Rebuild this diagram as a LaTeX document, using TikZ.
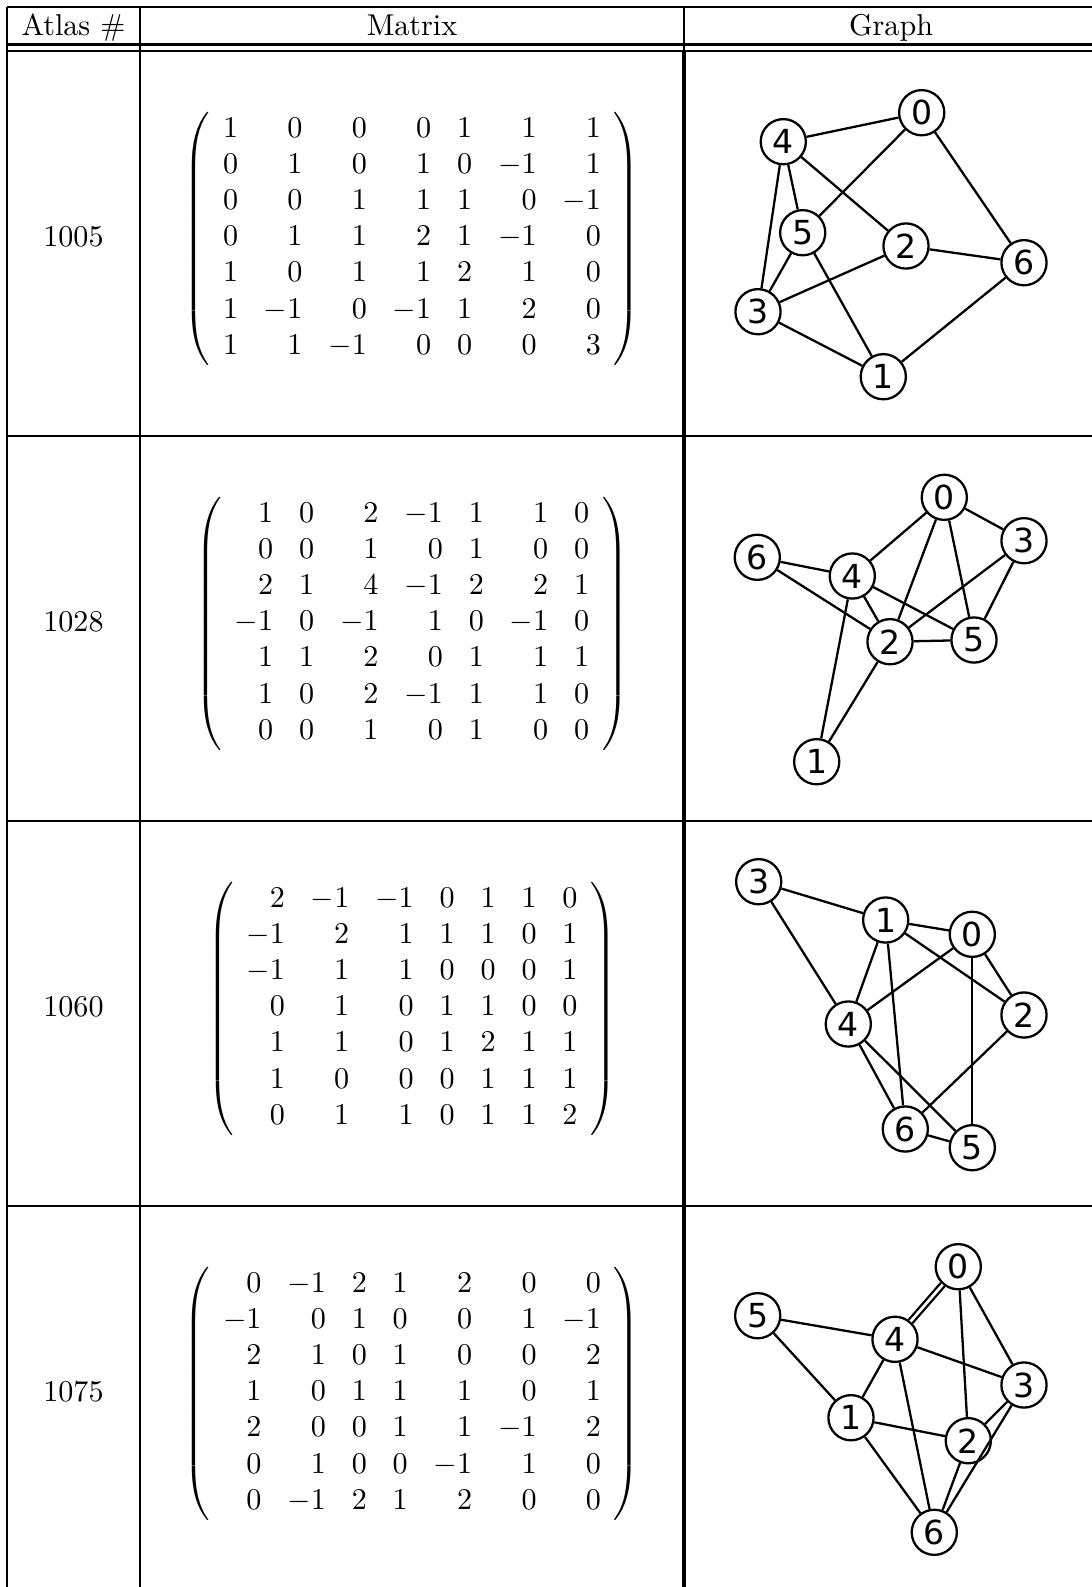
\documentclass[tikz,border=0pt]{standalone}
\usepackage{amsmath}
\usepackage{fontspec}
\newfontfamily\graphfont{DejaVu Sans}
\setlength{\arraycolsep}{4.3pt}

\begin{document}
\begin{tikzpicture}[x=0.332pt,y=-0.332pt]
\tikzstyle{every node}+=[inner sep=0pt]
\tikzstyle{vertex}=[draw=black,circle,fill=white,line width=0.76pt,minimum size=15pt,font=\graphfont\fontsize{11}{12}\selectfont]
\tikzstyle{edge}=[black,line width=0.76pt]
\tikzstyle{rule}=[black,line width=0.8pt]
\tikzstyle{heavyrule}=[black,line width=1pt]
\tikzstyle{thinrule}=[black,line width=0.4pt]
\useasboundingbox (0,0) rectangle (1092,1587);
\fill [white] (0,0) rectangle (1092,1587);
\draw [rule] (7,7) -- (1092,7);
\draw [rule] (7,44.5) -- (1092,44.5);
\draw [rule] (7,51) -- (700,51);
\draw [thinrule] (700,51) -- (1092,51);
\draw [rule] (7,436) -- (700,436);
\draw [thinrule] (700,436) -- (1092,436);
\draw [rule] (7,821) -- (700,821);
\draw [thinrule] (700,821) -- (1092,821);
\draw [rule] (7,1206) -- (700,1206);
\draw [thinrule] (700,1206) -- (1092,1206);
\draw [thinrule] (7,7) -- (7,1587);
\draw [thinrule] (140,7) -- (140,1587);
\draw [thinrule] (684,7) -- (684,51);
\draw [heavyrule] (684,51) -- (684,1587);
\node [anchor=base] (h1) at (73.5,35) {Atlas \#};
\node [anchor=base] (h2) at (412,35) {Matrix};
\node [anchor=base] (h3) at (891,35) {Graph};
\node (r1) at (73.5,236.7) {1005};
\node (r2) at (73.5,621.7) {1028};
\node (r3) at (73.5,1006.7) {1060};
\node (r4) at (73.5,1391.7) {1075};
\node (m1) at (412,238.5) {$\left(\begin{array}{rrrrrrr}
1 & 0 & 0 & 0 & 1 & 1 & 1\\
0 & 1 & 0 & 1 & 0 & -1 & 1\\
0 & 0 & 1 & 1 & 1 & 0 & -1\\
0 & 1 & 1 & 2 & 1 & -1 & 0\\
1 & 0 & 1 & 1 & 2 & 1 & 0\\
1 & -1 & 0 & -1 & 1 & 2 & 0\\
1 & 1 & -1 & 0 & 0 & 0 & 3
\end{array}\right)$};
\node (m2) at (412,623.5) {$\left(\begin{array}{rrrrrrr}
1 & 0 & 2 & -1 & 1 & 1 & 0\\
0 & 0 & 1 & 0 & 1 & 0 & 0\\
2 & 1 & 4 & -1 & 2 & 2 & 1\\
-1 & 0 & -1 & 1 & 0 & -1 & 0\\
1 & 1 & 2 & 0 & 1 & 1 & 1\\
1 & 0 & 2 & -1 & 1 & 1 & 0\\
0 & 0 & 1 & 0 & 1 & 0 & 0
\end{array}\right)$};
\node (m3) at (412,1008.5) {$\left(\begin{array}{rrrrrrr}
2 & -1 & -1 & 0 & 1 & 1 & 0\\
-1 & 2 & 1 & 1 & 1 & 0 & 1\\
-1 & 1 & 1 & 0 & 0 & 0 & 1\\
0 & 1 & 0 & 1 & 1 & 0 & 0\\
1 & 1 & 0 & 1 & 2 & 1 & 1\\
1 & 0 & 0 & 0 & 1 & 1 & 1\\
0 & 1 & 1 & 0 & 1 & 1 & 2
\end{array}\right)$};
\node (m4) at (412,1393.5) {$\left(\begin{array}{rrrrrrr}
0 & -1 & 2 & 1 & 2 & 0 & 0\\
-1 & 0 & 1 & 0 & 0 & 1 & -1\\
2 & 1 & 0 & 1 & 0 & 0 & 2\\
1 & 0 & 1 & 1 & 1 & 0 & 1\\
2 & 0 & 0 & 1 & 1 & -1 & 2\\
0 & 1 & 0 & 0 & -1 & 1 & 0\\
0 & -1 & 2 & 1 & 2 & 0 & 0
\end{array}\right)$};
\node [vertex] (a0) at (921.7,112.7) {0};
\node [vertex] (a1) at (883.3,376.7) {1};
\node [vertex] (a2) at (906,246) {2};
\node [vertex] (a3) at (758,311.7) {3};
\node [vertex] (a4) at (783.3,141.7) {4};
\node [vertex] (a5) at (802.7,232.7) {5};
\node [vertex] (a6) at (1024,262.7) {6};
\draw [edge] (a4) -- (a0);
\draw [edge] (a0) -- (a5);
\draw [edge] (a0) -- (a6);
\draw [edge] (a4) -- (a5);
\draw [edge] (a4) -- (a3);
\draw [edge] (a4) -- (a2);
\draw [edge] (a5) -- (a3);
\draw [edge] (a5) -- (a1);
\draw [edge] (a2) -- (a3);
\draw [edge] (a2) -- (a6);
\draw [edge] (a3) -- (a1);
\draw [edge] (a1) -- (a6);
\node [vertex] (b0) at (944.3,497.3) {0};
\node [vertex] (b1) at (816.7,761.7) {1};
\node [vertex] (b2) at (890,641.7) {2};
\node [vertex] (b3) at (1024,540.7) {3};
\node [vertex] (b4) at (852.3,576) {4};
\node [vertex] (b5) at (974,640) {5};
\node [vertex] (b6) at (757.3,557.3) {6};
\draw [edge] (b0) -- (b4);
\draw [edge] (b0) -- (b3);
\draw [edge] (b0) -- (b2);
\draw [edge] (b0) -- (b5);
\draw [edge] (b6) -- (b4);
\draw [edge] (b6) -- (b2);
\draw [edge] (b4) -- (b2);
\draw [edge] (b4) -- (b5);
\draw [edge] (b4) -- (b1);
\draw [edge] (b3) -- (b2);
\draw [edge] (b3) -- (b5);
\draw [edge] (b2) -- (b5);
\draw [edge] (b2) -- (b1);
\node [vertex] (c0) at (972.3,934.3) {0};
\node [vertex] (c1) at (885.7,920) {1};
\node [vertex] (c2) at (1024,1015) {2};
\node [vertex] (c3) at (758.7,881.7) {3};
\node [vertex] (c4) at (848.3,1024) {4};
\node [vertex] (c5) at (972.3,1147.7) {5};
\node [vertex] (c6) at (905.3,1129) {6};
\draw [edge] (c3) -- (c1);
\draw [edge] (c3) -- (c4);
\draw [edge] (c1) -- (c0);
\draw [edge] (c1) -- (c4);
\draw [edge] (c1) -- (c6);
\draw [edge] (c1) -- (c2);
\draw [edge] (c0) -- (c4);
\draw [edge] (c0) -- (c2);
\draw [edge] (c0) -- (c5);
\draw [edge] (c2) -- (c6);
\draw [edge] (c4) -- (c6);
\draw [edge] (c4) -- (c5);
\draw [edge] (c6) -- (c5);
\node [vertex] (d0) at (958.3,1266.7) {0};
\node [vertex] (d1) at (851,1417.7) {1};
\node [vertex] (d2) at (968.3,1440.7) {2};
\node [vertex] (d3) at (1024,1385) {3};
\node [vertex] (d4) at (895,1339.3) {4};
\node [vertex] (d5) at (757.7,1315.7) {5};
\node [vertex] (d6) at (934.3,1532.3) {6};
\draw [edge,double,double distance=0.9pt] (d0) -- (d4);
\draw [edge] (d0) -- (d2);
\draw [edge] (d0) -- (d3);
\draw [edge] (d5) -- (d4);
\draw [edge] (d5) -- (d1);
\draw [edge] (d4) -- (d3);
\draw [edge] (d4) -- (d1);
\draw [edge] (d4) -- (d6);
\draw [edge] (d1) -- (d2);
\draw [edge] (d1) -- (d6);
\draw [edge] (d3) -- (d2);
\draw [edge] (d3) -- (d6);
\draw [edge] (d2) -- (d6);
\end{tikzpicture}
\end{document}
